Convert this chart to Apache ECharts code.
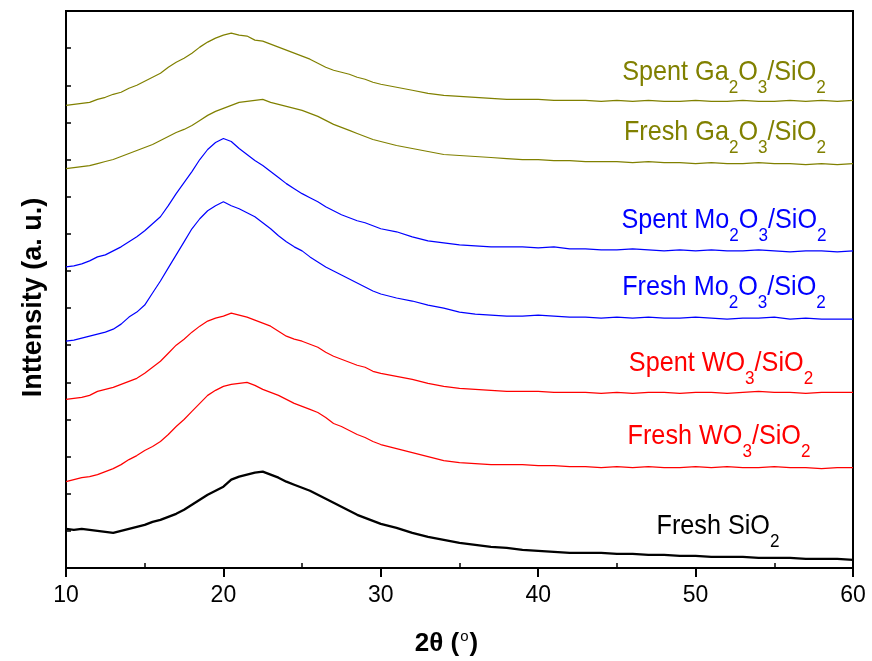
<!DOCTYPE html>
<html>
<head>
<meta charset="utf-8">
<script src="https://cdn.jsdelivr.net/npm/echarts@6/dist/echarts.min.js"></script>
<style>
  html, body { margin: 0; padding: 0; background: #fff; }
  #main { width: 872px; height: 661px; }
</style>
</head>
<body>
<div id="main"></div>
<script>
// 2theta positions (degrees)
var twoTheta = [10,10.5,11,11.5,12,12.5,13,13.5,14,14.5,15,15.5,16,16.5,17,17.5,18,18.5,19,19.5,
  20,20.5,21,21.5,22,22.5,23,23.5,24,24.5,25,25.5,26,26.5,27,27.5,28,28.5,29,29.5,30,
  31,32,33,34,35,36,37,38,39,40,41,42,43,44,45,46,47,48,49,50,51,52,53,54,55,56,57,58,59,60];

// intensities (a.u., stacked with offsets as in the figure)
var spentGa = [461,462,463,464,467,469,472,474,478,481,485,489,493,499,504,508,513,519,524,528,
  531,533,531,530,526,525,522,519,516,513,510,507,503,499,496,494,492,489,487,484,482,
  479,476,473,471,470,469,468,467,467,467,466,466,466,465,466,465,466,465,465,466,465,465,466,465,465,466,465,466,465,466];
var freshGa = [398,399,400,401,403,405,407,410,413,416,419,422,426,430,434,437,441,446,451,455,
  458,461,464,465,466,467,464,462,460,458,456,453,450,446,442,439,436,433,430,427,425,
  421,418,415,412,411,410,409,408,407,407,406,406,405,405,405,404,405,404,404,403,404,403,403,404,403,403,402,403,402,403];
var spentMo = [300,301,303,306,310,312,316,320,325,330,336,343,350,361,373,384,395,407,417,424,
  428,425,418,412,406,401,395,389,383,378,373,369,365,360,356,352,349,346,344,341,338,
  335,330,326,324,322,321,320,320,320,319,320,318,318,317,317,318,317,316,317,316,317,316,316,317,316,315,316,316,315,316];
var freshMo = [226,227,229,231,233,235,238,243,250,255,262,274,286,299,312,325,338,348,356,361,
  365,361,358,354,350,344,338,331,325,320,316,310,305,300,296,292,288,284,280,276,273,
  269,266,262,259,255,253,252,251,251,252,251,250,250,249,250,249,250,249,249,250,249,248,249,249,250,248,249,248,248,248];
var spentW = [168,169,170,172,176,178,180,183,186,189,194,200,206,214,222,228,235,241,246,249,
  251,254,252,250,247,244,241,236,231,228,226,223,220,215,211,208,205,202,200,196,194,
  191,188,184,181,179,178,177,176,176,176,175,175,175,174,175,174,175,175,174,175,175,174,175,176,175,175,174,175,175,175];
var freshW = [86,88,90,91,93,96,99,103,108,112,117,121,126,133,141,148,156,164,172,177,
  181,183,184,185,182,178,175,172,168,164,161,158,155,150,144,141,137,133,130,126,123,
  119,115,111,107,105,104,103,103,103,102,102,101,101,100,101,100,101,100,100,101,100,101,100,100,101,100,100,99,100,100];
var freshSiO2 = [39,38,39,38,37,36,35,37,39,41,43,46,48,51,54,58,63,68,73,77,
  81,88,91,93,95,96,93,90,86,83,80,77,73,69,65,61,57,53,50,47,44,
  40,35,31,28,25,23,21,20,18,17,16,15,15,15,14,14,13,13,12,12,11,11,11,10,10,10,9,9,9,8];

var xTicks = [10, 20, 30, 40, 50, 60];
var xMinorTicks = [15, 25, 35, 45, 55];

var seriesNames = ['Spent Ga2O3/SiO2', 'Fresh Ga2O3/SiO2', 'Spent Mo2O3/SiO2', 'Fresh Mo2O3/SiO2',
  'Spent WO3/SiO2', 'Fresh WO3/SiO2', 'Fresh SiO2'];
var seriesData = [spentGa, freshGa, spentMo, freshMo, spentW, freshW, freshSiO2];
var seriesColors = ['#808000', '#808000', '#0000ff', '#0000ff', '#ff0000', '#ff0000', '#000000'];
// rich-text versions of the curve labels (subscripts)
var labelTexts = [
  '{m|Spent Ga}{s|2}{m|O}{s|3}{m|/SiO}{s|2}',
  '{m|Fresh Ga}{s|2}{m|O}{s|3}{m|/SiO}{s|2}',
  '{m|Spent Mo}{s|2}{m|O}{s|3}{m|/SiO}{s|2}',
  '{m|Fresh Mo}{s|2}{m|O}{s|3}{m|/SiO}{s|2}',
  '{m|Spent WO}{s|3}{m|/SiO}{s|2}',
  '{m|Fresh WO}{s|3}{m|/SiO}{s|2}',
  '{m|Fresh SiO}{s|2}'
];
var labelPos = [[724, 74], [725, 134], [724, 222], [724, 289], [721, 365], [719, 438], [718, 528]];

var FONT = '"Liberation Sans", Arial, sans-serif';

function pairs(ys) {
  var out = [];
  for (var i = 0; i < twoTheta.length; i++) out.push([twoTheta[i], ys[i]]);
  return out;
}

var chart = echarts.init(document.getElementById('main'), null, { renderer: 'canvas' });

var series = [];
for (var i = 0; i < seriesData.length; i++) {
  series.push({
    name: seriesNames[i],
    type: 'line',
    xAxisIndex: 0,
    data: pairs(seriesData[i]),
    symbol: 'none',
    lineStyle: { color: seriesColors[i], width: i == 6 ? 2.3 : 1.2 },
    itemStyle: { color: seriesColors[i] }
  });
}

var graphics = [];
for (var j = 0; j < labelTexts.length; j++) {
  graphics.push({
    type: 'text',
    x: labelPos[j][0],
    y: labelPos[j][1] - 16,
    scaleX: 0.9,
    z: 10,
    style: {
      text: labelTexts[j],
      align: 'center',
      verticalAlign: 'top',
      fill: seriesColors[j],
      rich: {
        m: { fontSize: 28, lineHeight: 32, fontFamily: FONT, fill: seriesColors[j], verticalAlign: 'top' },
        s: { fontSize: 19, lineHeight: 19, fontFamily: FONT, fill: seriesColors[j], verticalAlign: 'top', padding: [20, 0, 0, 0] }
      }
    }
  });
}

chart.setOption({
  animation: false,
  backgroundColor: '#fff',
  grid: {
    left: 66, right: 19, top: 11, bottom: 93,
    outerBoundsMode: 'none',
    containLabel: false,
    show: true, borderColor: '#000', borderWidth: 2
  },
  xAxis: [
    {
      type: 'value',
      min: 10, max: 60, interval: 10,
      name: '{b|2θ (}{sup|o}{b|)}',
      nameLocation: 'middle',
      nameGap: 61,
      nameTextStyle: {
        padding: [0, 26, 0, 0],
        rich: {
          b: { fontSize: 26, fontWeight: 'bold', fontFamily: FONT, color: '#000', lineHeight: 30 },
          sup: { fontSize: 15, fontFamily: FONT, color: '#000', lineHeight: 15, padding: [0, 1, 15, 1] }
        }
      },
      axisLine: { lineStyle: { color: '#000', width: 2 } },
      axisTick: { show: true, inside: false, length: 9, lineStyle: { width: 2, color: '#000' }, customValues: xTicks },
      axisLabel: { fontSize: 23, fontFamily: FONT, color: '#000', margin: 16, customValues: xTicks },
      splitLine: { show: false }
    },
    {
      type: 'value',
      position: 'bottom',
      min: 10, max: 60, interval: 5,
      axisLine: { show: false },
      axisTick: { show: true, inside: true, length: 5, lineStyle: { width: 1.5, color: '#000' }, customValues: xMinorTicks },
      axisLabel: { show: false },
      splitLine: { show: false }
    }
  ],
  yAxis: {
    type: 'value',
    min: 0, max: 555, interval: 37,
    name: 'Inttensity (a. u.)',
    nameLocation: 'middle',
    nameGap: 19,
    nameTextStyle: { fontSize: 27, fontWeight: 'bold', fontFamily: FONT, color: '#000', padding: [0, 16, 0, 0] },
    axisLine: { lineStyle: { color: '#000', width: 2 } },
    axisTick: { show: true, inside: true, length: 5, lineStyle: { width: 1.5, color: '#000' } },
    axisLabel: { show: false },
    splitLine: { show: false }
  },
  series: series,
  graphic: graphics
});
</script>
</body>
</html>
